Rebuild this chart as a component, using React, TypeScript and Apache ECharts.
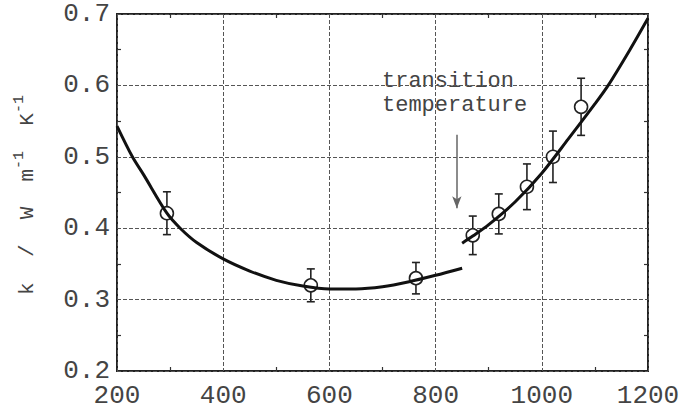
import React, { useEffect, useRef } from "react";
import * as echarts from "echarts";

const xTicks = [200, 400, 600, 800, 1000, 1200];
const yTicks = [0.2, 0.3, 0.4, 0.5, 0.6, 0.7];

const pointX = [294, 565, 763, 870, 919, 972, 1021, 1074];
const pointY = [0.421, 0.32, 0.33, 0.39, 0.42, 0.458, 0.5, 0.57];
const pointErr = [0.03, 0.023, 0.022, 0.027, 0.028, 0.032, 0.036, 0.04];

const curveLowX = [200, 229, 250, 294, 319, 350, 400, 450, 500, 550, 600, 650, 700, 750, 800, 850];
const curveLowY = [0.543, 0.5, 0.475, 0.421, 0.4, 0.38, 0.357, 0.34, 0.327, 0.319, 0.315, 0.315, 0.318, 0.325, 0.334, 0.344];

const curveHighX = [850, 870, 900, 950, 1000, 1050, 1100, 1125, 1166, 1200];
const curveHighY = [0.379, 0.389, 0.405, 0.437, 0.477, 0.525, 0.574, 0.6, 0.65, 0.694];

const arrowX = 840;
const arrowFromY = 0.531;
const arrowToY = 0.428;

const annotationLines = ["transition", "temperature"];

const MONO = '"Liberation Mono", "DejaVu Sans Mono", monospace';

export default function App() {
  const ref = useRef<HTMLDivElement>(null);
  useEffect(() => {
    if (!ref.current) return;
    const chart = echarts.init(ref.current, undefined, { renderer: "svg" });
    const errData = pointX.map((x, i) => [x, pointY[i] - pointErr[i], pointY[i] + pointErr[i]]);
    const axisCommon = {
      type: "value" as const,
      axisLine: { show: false },
      axisTick: { show: false, inside: true },
      minorTick: { show: true, splitNumber: 2, length: 4, lineStyle: { color: "#333", width: 1.2 } },
    };
    chart.setOption({
      animation: false,
      backgroundColor: "#fff",
      grid: { left: 117, right: 36, top: 14, bottom: 40, show: true, borderColor: "#222", borderWidth: 2, backgroundColor: "transparent" },
      xAxis: [
        {
          ...axisCommon,
          min: xTicks[0],
          max: xTicks[xTicks.length - 1],
          interval: 200,
          axisLabel: { fontFamily: MONO, fontSize: 26, color: "#444", margin: 12, formatter: (v: number) => String(v) },
          splitLine: { show: true, lineStyle: { color: "#555", type: [4, 2], width: 1 } },
        },
        {
          ...axisCommon,
          position: "top",
          min: xTicks[0],
          max: xTicks[xTicks.length - 1],
          interval: 200,
          axisLabel: { show: false },
          splitLine: { show: false },
        },
      ],
      yAxis: [
        {
          ...axisCommon,
          min: yTicks[0],
          max: yTicks[yTicks.length - 1],
          interval: 0.1,
          axisLabel: {
            fontFamily: MONO,
            fontSize: 26,
            color: "#444",
            margin: 7,
            padding: [14, 0, 0, 0],
            formatter: (v: number) => v.toFixed(1),
          },
          splitLine: { show: true, lineStyle: { color: "#555", type: [4, 2], width: 1 } },
        },
        {
          ...axisCommon,
          position: "right",
          min: yTicks[0],
          max: yTicks[yTicks.length - 1],
          interval: 0.1,
          axisLabel: { show: false },
          splitLine: { show: false },
        },
      ],
      series: [
        {
          type: "custom",
          z: 2,
          data: errData,
          encode: { x: 0, y: [1, 2] },
          renderItem: (params: any, api: any) => {
            const x = api.value(0);
            const top = api.coord([x, api.value(2)]);
            const bot = api.coord([x, api.value(1)]);
            const w = 4;
            const st = { stroke: "#222", lineWidth: 1.6 };
            return {
              type: "group",
              children: [
                { type: "line", shape: { x1: top[0], y1: top[1], x2: bot[0], y2: bot[1] }, style: st },
                { type: "line", shape: { x1: top[0] - w, y1: top[1], x2: top[0] + w, y2: top[1] }, style: st },
                { type: "line", shape: { x1: bot[0] - w, y1: bot[1], x2: bot[0] + w, y2: bot[1] }, style: st },
              ],
            };
          },
          markLine: {
            silent: true,
            symbol: ["none", "arrow"],
            symbolSize: [7, 12],
            label: { show: false },
            lineStyle: { color: "#666", width: 1.5, type: "solid" },
            data: [[{ coord: [arrowX, arrowFromY] }, { coord: [arrowX, arrowToY] }]],
          },
        },
        {
          type: "scatter",
          z: 3,
          symbol: "circle",
          symbolSize: 13,
          itemStyle: { color: "#fff", borderColor: "#222", borderWidth: 1.6, opacity: 1 },
          data: pointX.map((x, i) => [x, pointY[i]]),
        },
        {
          type: "line",
          z: 4,
          smooth: 0.3,
          showSymbol: false,
          symbol: "none",
          lineStyle: { color: "#111", width: 3 },
          data: curveLowX.map((x, i) => [x, curveLowY[i]]),
        },
        {
          type: "line",
          z: 4,
          smooth: 0.3,
          showSymbol: false,
          symbol: "none",
          lineStyle: { color: "#111", width: 3 },
          data: curveHighX.map((x, i) => [x, curveHighY[i]]),
        },
      ],
      graphic: [
        {
          type: "text",
          x: 382,
          y: 81,
          style: { text: annotationLines[0], font: `22px ${MONO}`, fill: "#444", align: "left", verticalAlign: "middle" },
        },
        {
          type: "text",
          x: 382,
          y: 105,
          style: { text: annotationLines[1], font: `22px ${MONO}`, fill: "#444", align: "left", verticalAlign: "middle" },
        },
        {
          type: "text",
          x: 25,
          y: 195,
          rotation: Math.PI / 2,
          style: {
            text: "{a|k  /  W  m}{s|-1}{a|  K}{s|-1}",
            align: "center",
            verticalAlign: "middle",
            fill: "#444",
            rich: {
              a: { fontFamily: MONO, fontSize: 21, fill: "#444", lineHeight: 26, verticalAlign: "bottom" },
              s: { fontFamily: MONO, fontSize: 15, fill: "#444", lineHeight: 26, verticalAlign: "top" },
            },
          },
        },
      ],
    });
    return () => chart.dispose();
  }, []);
  return <div ref={ref} style={{ width: 684, height: 411, position: "absolute", left: 0, top: 0 }} />;
}
